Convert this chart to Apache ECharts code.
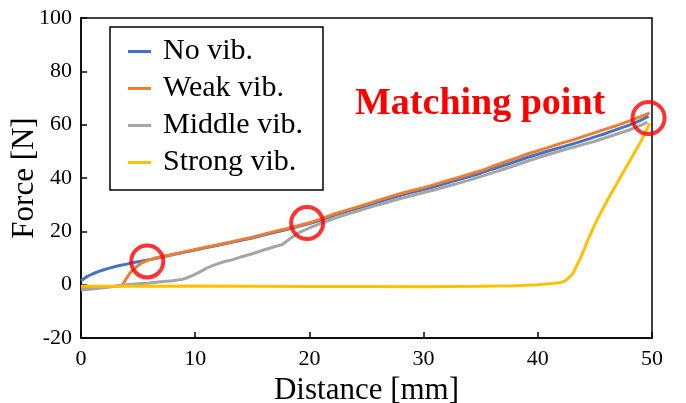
<!DOCTYPE html>
<html>
<head>
<meta charset="utf-8">
<script src="https://cdn.jsdelivr.net/npm/echarts@6/dist/echarts.min.js"></script>
<style>
	html, body { margin: 0; padding: 0; background: #fff; }
	#chart { width: 686px; height: 403px; }
</style>
</head>
<body>
<div id="chart"></div>
<script>
	// values, [distance mm, force N]
	var seriesNames = ['No vib.', 'Weak vib.', 'Middle vib.', 'Strong vib.'];
	var seriesColors = ['#4472C4', '#ED7D31', '#A5A5A5', '#FFC000'];

	var noVib = [
		[0, 1.5], [0.5, 3.0], [1, 4.0], [1.5, 4.9], [2, 5.6], [2.5, 6.2], [3, 6.8], [3.5, 7.3],
		[4, 7.7], [4.5, 8.2], [5, 8.6], [5.5, 9.0], [6, 9.4], [6.5, 9.8], [7, 10.3], [8, 11.2],
		[9, 12.1], [10, 13.0], [11, 13.9], [12, 14.8], [13, 15.7], [14, 16.6], [15, 17.5],
		[16, 18.6], [17, 19.6], [18, 20.7], [19, 21.8], [20, 22.9], [21, 24.2], [22, 25.8],
		[23, 27.1], [24, 28.4], [25, 29.7], [26, 31.0], [27, 32.3], [28, 33.5], [29, 34.6],
		[30, 35.7], [31, 36.8], [32, 38.1], [33, 39.3], [34, 40.5], [35, 41.8], [36, 43.3],
		[37, 44.7], [38, 46.1], [39, 47.6], [40, 48.9], [41, 50.2], [42, 51.5], [43, 52.7],
		[44, 54.0], [45, 55.4], [46, 56.8], [47, 58.3], [48, 59.8], [49, 61.6], [49.7, 63.2]
	];
	var weakVib = [
		[0, -1.2], [1, -1.0], [2, -0.8], [3, -0.6], [3.6, -0.3], [4.0, 2.5], [4.3, 4.4],
		[4.8, 6.5], [5.3, 8.1], [5.9, 9.2], [6.5, 10.0], [7, 10.5], [8, 11.3], [9, 12.3],
		[10, 13.2], [11, 14.1], [12, 15.0], [13, 15.9], [14, 16.9], [15, 17.8], [16, 18.9],
		[17, 20.0], [18, 21.0], [19, 22.1], [20, 23.2], [21, 24.7], [22, 26.3], [23, 27.6],
		[24, 28.9], [25, 30.2], [26, 31.6], [27, 32.9], [28, 34.2], [29, 35.3], [30, 36.4],
		[31, 37.6], [32, 38.9], [33, 40.1], [34, 41.4], [35, 42.7], [36, 44.3], [37, 45.8],
		[38, 47.3], [39, 48.9], [40, 50.2], [41, 51.6], [42, 53.0], [43, 54.2], [44, 55.6],
		[45, 57.0], [46, 58.4], [47, 59.8], [48, 61.3], [49, 63.0], [49.8, 64.4]
	];
	var middleVib = [
		[0, -2.0], [1, -1.6], [2, -1.2], [3, -0.6], [4, 0.0], [5, 0.3], [6, 0.6], [7, 1.1],
		[8, 1.5], [8.8, 1.9], [9.3, 2.6], [9.8, 3.5], [10.5, 5.0], [11.0, 6.2], [11.7, 7.4],
		[12.5, 8.6], [13.3, 9.4], [14.0, 10.4], [15.0, 11.6], [16.0, 13.0], [17.0, 14.3],
		[17.6, 15.0], [18.3, 17.2], [19.0, 19.3], [19.6, 20.5], [20.1, 21.5], [21, 23.0],
		[22, 24.6], [23, 26.0], [24, 27.3], [25, 28.6], [26, 29.9], [27, 31.1], [28, 32.3],
		[29, 33.4], [30, 34.5], [31, 35.6], [32, 36.8], [33, 38.0], [34, 39.2], [35, 40.5],
		[36, 41.9], [37, 43.3], [38, 44.7], [39, 46.2], [40, 47.6], [41, 48.9], [42, 50.2],
		[43, 51.4], [44, 52.6], [45, 53.8], [46, 55.2], [47, 56.6], [48, 58.0], [49, 59.7],
		[49.6, 61.0]
	];
	var strongVib = [
		[0, -0.6], [5, -0.6], [10, -0.5], [15, -0.6], [20, -0.7], [25, -0.7], [30, -0.8],
		[35, -0.6], [38, -0.4], [40, 0.0], [41, 0.3], [42, 0.8], [42.4, 1.4], [42.8, 3.0],
		[43.1, 4.4], [43.8, 10.5], [44.4, 16.9], [45.2, 24.5], [46.2, 32.5], [47, 38.5],
		[48, 46.0], [49, 53.5], [49.8, 60.5]
	];
	var matchingPoints = [[5.8, 8.7], [19.8, 23.1], [49.7, 62.5]];

	var xMin = 0, xMax = 50, xStep = 10;
	var yMin = -20, yMax = 100, yStep = 20;

	var serif = '"Liberation Serif", "DejaVu Serif", serif';
	var chart = echarts.init(document.getElementById('chart'));

	var lineData = [noVib, weakVib, middleVib, strongVib];
	var series = [];
	for (var i = 0; i < lineData.length; i++) {
		series.push({
			name: seriesNames[i],
			type: 'line',
			data: lineData[i],
			showSymbol: false,
			symbol: 'none',
			lineStyle: { color: seriesColors[i], width: 3 },
			itemStyle: { color: seriesColors[i] },
			z: 2 + i
		});
	}
	series.push({
		name: 'matching',
		type: 'scatter',
		data: matchingPoints,
		symbol: 'circle',
		symbolSize: 32,
		clip: false,
		itemStyle: { color: 'rgba(0,0,0,0)', borderColor: '#FF0000', borderWidth: 4 },
		z: 10
	});

	chart.setOption({
		animation: false,
		grid: {
			left: 81, right: 34, top: 18, bottom: 65,
			outerBoundsMode: 'none',
			containLabel: false,
			show: true, borderColor: '#000', borderWidth: 1.5
		},
		legend: {
			data: seriesNames,
			orient: 'vertical',
			left: 110,
			top: 27,
			icon: 'rect',
			itemWidth: 23,
			itemHeight: 3,
			itemGap: 4,
			padding: [8, 20, 11, 18],
			borderColor: '#000',
			borderWidth: 1.5,
			backgroundColor: '#fff',
			textStyle: {
				fontFamily: serif, fontSize: 30, color: '#000',
				lineHeight: 33, padding: [0, 0, 0, 7]
			}
		},
		xAxis: {
			type: 'value',
			min: xMin, max: xMax, interval: xStep,
			name: 'Distance [mm]',
			nameLocation: 'middle',
			nameGap: 37,
			nameMoveOverlap: false,
			nameTextStyle: { fontFamily: serif, fontSize: 31, color: '#000' },
			axisLine: { onZero: false, lineStyle: { color: '#000', width: 1.5 } },
			axisTick: { inside: true, length: 6, lineStyle: { color: '#000', width: 1.5 } },
			axisLabel: { fontFamily: serif, fontSize: 22, color: '#000', margin: 10 },
			splitLine: { show: false }
		},
		yAxis: {
			type: 'value',
			min: yMin, max: yMax, interval: yStep,
			name: 'Force [N]',
			nameLocation: 'middle',
			nameGap: 41,
			nameMoveOverlap: false,
			nameTextStyle: { fontFamily: serif, fontSize: 31, color: '#000' },
			axisLine: { show: true, onZero: false, lineStyle: { color: '#000', width: 1.5 } },
			axisTick: { show: true, inside: true, length: 6, lineStyle: { color: '#000', width: 1.5 } },
			axisLabel: { fontFamily: serif, fontSize: 22, color: '#000', margin: 9 },
			splitLine: { show: false }
		},
		graphic: [{
			type: 'text',
			left: 355,
			top: 85,
			style: {
				text: 'Matching point',
				font: 'bold 38px ' + serif,
				fill: '#FF0000'
			}
		}],
		series: series
	});
</script>
</body>
</html>
